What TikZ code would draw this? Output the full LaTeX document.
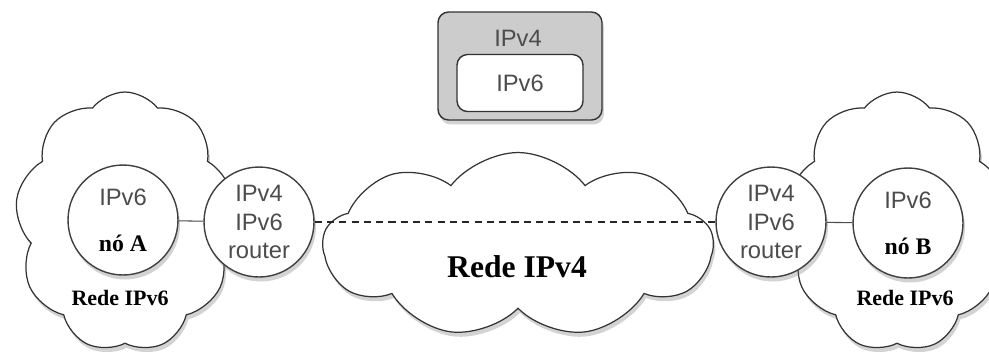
\documentclass[tikz,border=0pt]{standalone}
\usepackage{fontspec}
\setmainfont{Liberation Serif}
\setsansfont{Liberation Sans}
\usetikzlibrary{shapes.symbols,shadows,positioning}

\begin{document}
\begin{tikzpicture}[x=0.02cm, y=-0.02cm,
  sombra/.style = {drop shadow={opacity=0.35, shadow xshift=0.4mm, shadow yshift=-0.9mm}},
  nuvem/.style = {cloud, cloud puffs=9, cloud puff arc=105, cloud ignores aspect, draw=black!80, fill=white, line width=0.7pt, sombra},
  no/.style = {circle, draw=black!75, fill=white, line width=0.8pt, minimum size=2.2cm, inner sep=0pt, align=center, font=\sffamily\fontsize{13.5}{16}\selectfont, text=black!70, sombra},
  rotulo/.style = {font=\bfseries\fontsize{12.5}{14}\selectfont}]
\useasboundingbox (0,0) rectangle (989,353);
% redes
\node[nuvem, minimum width=4.4cm, minimum height=5.2cm] (redeA) at (125,222) {};
\node[nuvem, shape border rotate=20, minimum width=4.4cm, minimum height=5.2cm] (redeB) at (897,222) {};
\node[nuvem, shape border rotate=10, minimum width=7.8cm, minimum height=3.7cm] (rede4) at (518,245) {};
\node[font=\bfseries\fontsize{18}{20}\selectfont] (nome4) at (517,267) {Rede IPv4};
\node[rotulo] (nomeA) at (120,298) {Rede IPv6};
\node[rotulo] (nomeB) at (905,298) {Rede IPv6};
% nos e routers
\node[no] (noA) at (123,220) {IPv6\\[10pt]{\rmfamily\bfseries\color{black}nó A}};
\node[no] (routerA) at (259,222) {IPv4\\IPv6\\router};
\node[no] (routerB) at (771,222) {IPv4\\IPv6\\router};
\node[no] (noB) at (908,223) {IPv6\\[10pt]{\rmfamily\bfseries\color{black}nó B}};
\draw[black!70, line width=0.6pt] (noA) -- (routerA);
\draw[black!70, line width=0.6pt] (routerB) -- (noB);
\draw[black!85, line width=0.8pt, dash pattern=on 4pt off 3pt] (routerA) -- (routerB);
% tunel
\node[draw=black!80, fill=black!20, rounded corners=6pt, line width=0.8pt, minimum width=3.28cm, minimum height=2.16cm, sombra] (tunel) at (520,66) {};
\node[draw=black!80, fill=white, rounded corners=6pt, line width=0.8pt, minimum width=2.52cm, minimum height=1.14cm, font=\sffamily\fontsize{13.5}{16}\selectfont, text=black!70] (ipv6) at (520,83) {IPv6};
\node[font=\sffamily\fontsize{13.5}{16}\selectfont, text=black!70] (ipv4) at (518,38) {IPv4};
\end{tikzpicture}
\end{document}
